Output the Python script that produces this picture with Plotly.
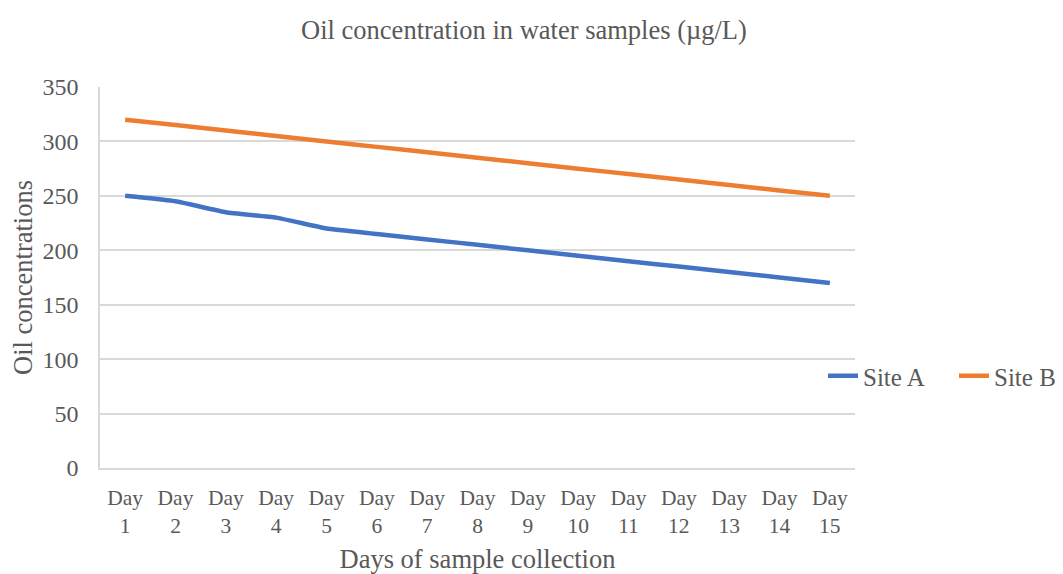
import plotly.graph_objects as go

days = [f"Day<br>{i}" for i in range(1, 16)]
site_a = [250, 245, 235, 230, 220, 215, 210, 205, 200, 195, 190, 185, 180, 175, 170]
site_b = [320, 315, 310, 305, 300, 295, 290, 285, 280, 275, 270, 265, 260, 255, 250]

FONT = "Liberation Serif, Times New Roman, serif"
GREY = "#595959"
GRID = "#d9d9d9"

# page body has an 8px margin, so the figure is drawn 8px in from the corner
fig = go.Figure()
fig.add_trace(go.Scatter(x=days, y=site_a, name="Site A", mode="lines",
                         line=dict(color="#4472C4", width=4.5, shape="spline", smoothing=0.4)))
fig.add_trace(go.Scatter(x=days, y=site_b, name="Site B", mode="lines",
                         line=dict(color="#ED7D31", width=4.5, shape="spline", smoothing=0.4)))

fig.update_layout(
    width=1055, height=566,
    paper_bgcolor="white", plot_bgcolor="white",
    margin=dict(l=92, r=208, t=79, b=106, autoexpand=False),
    font=dict(family=FONT, color=GREY, size=24),
    title=dict(text="Oil concentration in water samples (µg/L)", x=516 / 1055, xanchor="center",
               y=1 - 22 / 566, yanchor="middle", font=dict(size=26.5, color=GREY)),
    legend=dict(orientation="h", xanchor="left", x=(815 - 92) / 755,
                y=(460 - 368) / 381, yanchor="middle", entrywidth=86,
                font=dict(size=25, color=GREY), traceorder="normal",
                bgcolor="rgba(0,0,0,0)"),
    xaxis=dict(
        type="category", range=[-0.5, 14.5], showgrid=False, automargin=False,
        showline=True, linecolor=GRID, linewidth=1.5, ticks="",
        tickfont=dict(size=21.5, color=GREY), ticklabelstandoff=9,
        title=dict(text="Days of sample collection", font=dict(size=26.5, color=GREY), standoff=19),
    ),
    yaxis=dict(
        range=[0, 350], dtick=50, showgrid=True, gridcolor=GRID, gridwidth=1.5, automargin=False,
        showline=True, linecolor=GRID, linewidth=1.5, zeroline=False, ticks="",
        tickfont=dict(size=24, color=GREY), ticklabelstandoff=15,
        title=dict(text="Oil concentrations", font=dict(size=26.5, color=GREY), standoff=10),
    ),
)

fig.write_html("out.html")
